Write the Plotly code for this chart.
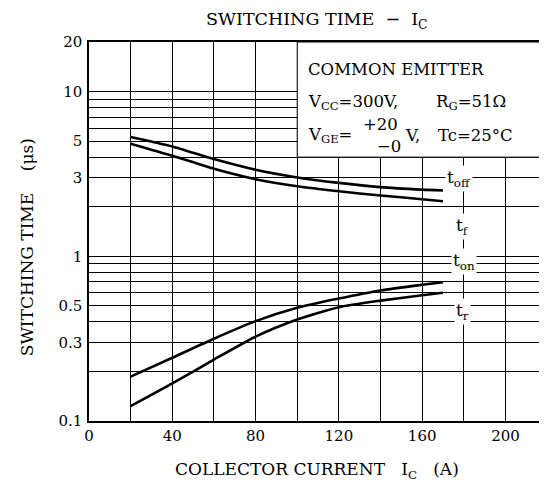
import plotly.graph_objects as go
import math

# ---- data ----
ic = [20, 40, 60, 80, 100, 120, 140, 160, 170]
t_off = [5.3, 4.64, 3.89, 3.35, 3.01, 2.79, 2.63, 2.54, 2.51]
t_f = [4.83, 4.08, 3.4, 2.94, 2.66, 2.48, 2.34, 2.22, 2.16]
t_on = [0.186, 0.242, 0.316, 0.404, 0.487, 0.554, 0.62, 0.671, 0.695]
t_r = [0.123, 0.169, 0.236, 0.325, 0.413, 0.491, 0.538, 0.58, 0.6]

x_grid = [0, 20, 40, 60, 80, 100, 120, 140, 160, 180, 200]
x_labels = ["0", "", "40", "", "80", "", "120", "", "160", "", "200"]
y_grid = [0.1, 0.2, 0.3, 0.4, 0.5, 0.6, 0.7, 0.8, 0.9,
          1, 2, 3, 4, 5, 6, 7, 8, 9, 10, 20]
y_label_map = {0.1: "0.1", 0.3: "0.3", 0.5: "0.5", 1: "1", 3: "3", 5: "5", 10: "10", 20: "20"}
y_labels = [y_label_map.get(v, "") for v in y_grid]

OFF = 8  # page body margin
W, H = 547, 488
L, R, T, B = 89 - OFF, OFF, 42 - OFF, H - (421 - OFF)
PW, PH = W - L - R, H - T - B
FONT = "DejaVu Serif"

def px(xp):  # page pixel -> paper
    return (xp - OFF - L) / PW

def py(yp):
    return (H - B - (yp - OFF)) / PH

fig = go.Figure()
for ys in [t_off, t_f, t_on, t_r]:
    fig.add_trace(go.Scatter(x=ic, y=ys, mode="lines",
                             line=dict(color="black", width=2.6, shape="spline", smoothing=0.6),
                             showlegend=False, hoverinfo="skip"))

# condition box
fig.add_shape(type="rect", xref="x", yref="y", x0=100, x1=219, y0=4, y1=20,
              fillcolor="white", line=dict(color="black", width=1), layer="above")

ann = []
def A(text, xp, yp, size=15, xanchor="left", **kw):
    ann.append(dict(text=text, x=px(xp), y=py(yp), xref="paper", yref="paper",
                    xanchor=xanchor, yanchor="middle", showarrow=False,
                    font=dict(family=FONT, size=size, color="black"), **kw))

A("SWITCHING TIME  −  I<sub>C</sub>", 317, 20, size=17.5, xanchor="center")
A("COMMON EMITTER", 307, 69, size=16.5)
A("V<sub>CC</sub>=300V,", 307, 102, size=16.5)
A("R<sub>G</sub>=51Ω", 436, 102, size=16.5)
A("V<sub>GE</sub>=", 307, 135, size=16.5)
A("+20", 362, 125, size=16.5)
A("−0", 376, 146, size=16.5)
A("V,", 404, 135, size=16.5)
A("Tc=25°C", 438, 135, size=16.5)
A("COLLECTOR CURRENT   I<sub>C</sub>   (A)", 318, 470, size=17, xanchor="center")
A("SWITCHING TIME    (μs)", 27, 247, size=17, xanchor="center", textangle=-90)

for txt, xv, yv in [("t<sub>off</sub>", 177.5, 2.95), ("t<sub>f</sub>", 179.5, 1.52),
                    ("t<sub>on</sub>", 180, 0.93), ("t<sub>r</sub>", 179.5, 0.46)]:
    ann.append(dict(text=txt, x=xv, y=math.log10(yv), xref="x", yref="y",
                    showarrow=False, bgcolor="white", borderpad=1,
                    font=dict(family=FONT, size=17, color="black")))

fig.update_layout(
    width=W, height=H, margin=dict(l=L, r=R, t=T, b=B),
    paper_bgcolor="white", plot_bgcolor="white",
    annotations=ann,
    xaxis=dict(range=[0, 219], tickvals=x_grid, ticktext=x_labels,
               showgrid=True, gridcolor="black", gridwidth=1,
               showline=True, linecolor="black", linewidth=1.5, mirror=True,
               zeroline=False, ticks="", tickfont=dict(family=FONT, size=15, color="black")),
    yaxis=dict(type="log", range=[-1, math.log10(20)], tickvals=y_grid, ticktext=y_labels,
               showgrid=True, gridcolor="black", gridwidth=1,
               showline=True, linecolor="black", linewidth=1.5, mirror=True,
               zeroline=False, ticks="", ticklabelstandoff=2,
               tickfont=dict(family=FONT, size=15, color="black")),
)
fig.write_html("out.html")
